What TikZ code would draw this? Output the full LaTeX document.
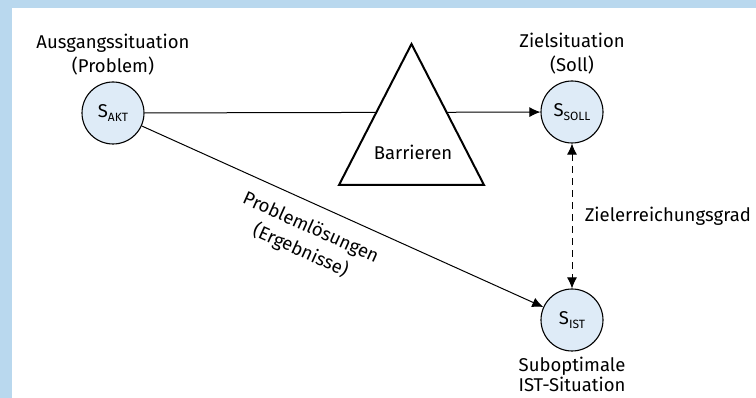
\documentclass[tikz,border=0pt]{standalone}
\usepackage{fontspec}
\setmainfont{Fira Sans}
\usetikzlibrary{arrows.meta,positioning}
\definecolor{frameblue}{HTML}{B9D8EE}
\definecolor{stateblue}{HTML}{DEEBF7}
\newcommand{\sub}[1]{\raisebox{-0.45ex}{\fontsize{12}{12}\selectfont #1}}

\begin{document}
\begin{tikzpicture}[x=1pt, y=-1pt,
    every node/.style={font=\fontsize{18.5}{24}\selectfont},
    state/.style={draw, circle, fill=stateblue, line width=1.1pt, minimum size=62pt, inner sep=0pt},
    arr/.style={-{Latex[length=11pt,width=10pt]}, line width=1pt}]
    % frame
    \fill[frameblue] (0,0) rectangle (756,398);
    \fill[white] (12,8) rectangle (756,398);
    \useasboundingbox (0,0) rectangle (756,398);
    % states
    \node[state] (akt) at (113,113) {S\sub{AKT}};
    \node[state] (soll) at (572,112) {S\sub{SOLL}};
    \node[state] (ist) at (572,320) {S\sub{IST}};
    % labels of the states
    \node[above=3pt of akt, align=center] (aktlbl) {Ausgangssituation\\(Problem)};
    \node[above=3pt of soll, align=center] (solllbl) {Zielsituation\\(Soll)};
    \node[below=2pt of ist, align=center, font=\fontsize{18.5}{20}\selectfont] (istlbl) {Suboptimale\\IST-Situation};
    % way to the goal, blocked by the barrier
    \draw[arr] (akt) -- (soll);
    \draw[line width=2pt, fill=white] (339,185) -- (411.5,44) -- (484,185) -- cycle;
    \node (barr) at (413,152) {Barrieren};
    % way to the solution
    \draw[arr] (akt) -- (ist)
      node[pos=0.445, below=11pt, sloped, align=center, font=\fontsize{18.5}{25}\selectfont] (loes) {Problemlösungen\\(Ergebnisse)};
    % degree of goal attainment
    \draw[{Latex[length=11pt,width=10pt]}-{Latex[length=11pt,width=10pt]}, line width=1pt, dash pattern=on 7pt off 5pt] (soll) -- (ist)
      node[midway, right=9pt] (grad) {Zielerreichungsgrad};
\end{tikzpicture}
\end{document}
